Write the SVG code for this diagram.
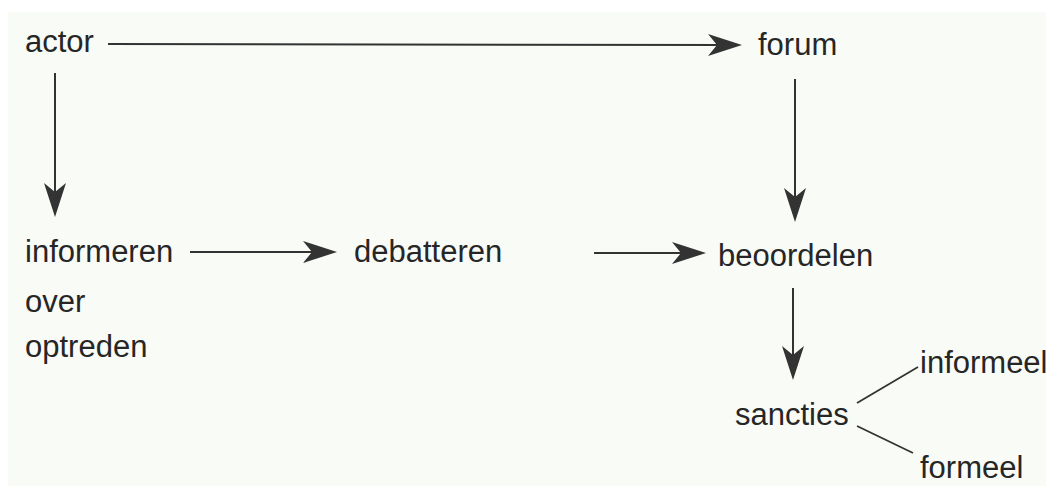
<svg xmlns="http://www.w3.org/2000/svg" width="1051" height="496" viewBox="0 0 1051 496">
  <style>
    .lbl { font-family: "Liberation Sans", Arial, sans-serif; font-size: 31px; fill: #262626; }
    .edge { stroke: #333; stroke-width: 2; fill: none; }
    .branch { stroke: #333; stroke-width: 1.8; fill: none; }
  </style>
  <defs>
    <!-- barbed arrowhead; tip lies 12px beyond the line end -->
    <marker id="arrow" markerUnits="userSpaceOnUse" viewBox="0 -12 34 24" markerWidth="34" markerHeight="24" refX="22" refY="0" orient="auto">
      <path d="M0,-11 L34,0 L0,11 L9,0 Z" fill="#333"/>
    </marker>
  </defs>

  <rect x="0" y="0" width="1051" height="496" fill="#ffffff"/>
  <rect x="8" y="12" width="1038" height="474" fill="#f9fbf7"/>

  <g id="connectors">
    <line class="edge" x1="108" y1="44" x2="730" y2="45" marker-end="url(#arrow)"/>
    <line class="edge" x1="55" y1="73" x2="55" y2="205" marker-end="url(#arrow)"/>
    <line class="edge" x1="795" y1="79" x2="795" y2="210" marker-end="url(#arrow)"/>
    <line class="edge" x1="190" y1="252" x2="325" y2="252" marker-end="url(#arrow)"/>
    <line class="edge" x1="594" y1="253" x2="694" y2="253" marker-end="url(#arrow)"/>
    <line class="edge" x1="793" y1="288" x2="793" y2="368" marker-end="url(#arrow)"/>
    <line class="branch" x1="857" y1="403" x2="918" y2="367"/>
    <line class="branch" x1="857" y1="426" x2="913" y2="453"/>
  </g>

  <g id="actor"><text class="lbl" x="25" y="52">actor</text></g>
  <g id="forum"><text class="lbl" x="758" y="55">forum</text></g>
  <g id="informeren"><text class="lbl" x="25" y="262">informeren</text>
    <text class="lbl" x="25" y="312">over</text>
    <text class="lbl" x="25" y="357">optreden</text></g>
  <g id="debatteren"><text class="lbl" x="354" y="262">debatteren</text></g>
  <g id="beoordelen"><text class="lbl" x="718" y="266">beoordelen</text></g>
  <g id="sancties"><text class="lbl" x="735" y="425">sancties</text></g>
  <g id="informeel"><text class="lbl" x="920" y="373">informeel</text></g>
  <g id="formeel"><text class="lbl" x="920" y="478">formeel</text></g>
</svg>
